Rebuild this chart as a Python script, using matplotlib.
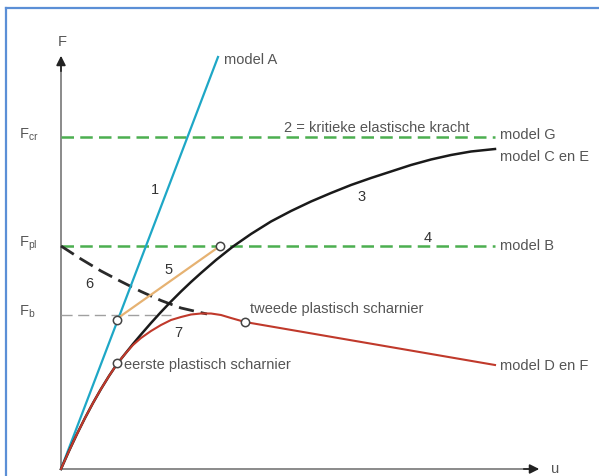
import numpy as np
import matplotlib
matplotlib.use('Agg')
import matplotlib.pyplot as plt

plt.rcParams['font.family'] = ['Liberation Sans', 'DejaVu Sans']

# schematic load-displacement curves (u, F) in drawing units
F_cr = 332
F_pl = 223
F_b = 154

model_a_u = [0, 157]
model_a_F = [0, 412]

# shared start of the red and black curves (up to first hinge)
start_u = [0, 8, 16, 24, 32, 40, 48, 56]
start_F = [0, 18, 35, 51, 66, 80, 93, 105]

# model D en F (red), after first hinge
red_u = start_u + [64, 72, 80, 90, 100, 110, 120, 130, 140, 150, 160, 170, 184, 434]
red_F = start_F + [115, 124, 131, 138, 144, 149, 152, 154.5, 155.5, 155.5, 154, 151, 147, 104]

# model C en E (black), after first hinge
black_u = start_u + [64, 72, 80, 90, 100, 110, 120, 130, 140, 155, 172, 190, 210, 230,
                     250, 270, 290, 310, 330, 350, 370, 390, 410, 434]
black_F = start_F + [115, 125, 134.5, 146, 157, 167.5, 177.5, 187, 196, 209, 222.5, 235,
                     247.5, 258, 267.5, 276, 284, 291, 297.5, 304, 309.5, 314, 317.5, 320]

# 6: dashed curve from F_pl down to the red top
dash6_u = [0, 20, 40, 60, 80, 100, 120, 146]
dash6_F = [223, 210, 198, 187.5, 177.5, 168.5, 161, 155]

# 5: orange line between the two hinge states
orange_u = [57, 159]
orange_F = [151, 223]

hinge_u = [56, 184]
hinge_F = [106, 147]
open_u = [56, 159]
open_F = [149, 223]

fig = plt.figure(figsize=(5.99, 4.76), dpi=100)
ax = fig.add_axes([0, 0, 1, 1])
ax.set_xlim(-61, 538)
ax.set_ylim(-7, 469)
ax.axis('off')

# frame
ax.plot([-55, -55], [-7, 461], color='#5b8fd6', lw=1.6)
ax.plot([-55, 538], [461, 461], color='#5b8fd6', lw=1.6)

# axes
ax.plot([0, 0], [0, 405], color='#8a8a8a', lw=1.4)
ax.plot([0, 470], [0, 0], color='#8a8a8a', lw=1.4)
ax.annotate('', xy=(0, 416), xytext=(0, 395),
            arrowprops=dict(arrowstyle='-|>', color='#222', lw=1.2, mutation_scale=14))
ax.annotate('', xy=(481, 0), xytext=(460, 0),
            arrowprops=dict(arrowstyle='-|>', color='#222', lw=1.2, mutation_scale=14))

green = '#4caf50'
ax.plot([0, 434], [F_cr, F_cr], color=green, lw=1.8, dashes=(5, 2.5))
ax.plot([0, 434], [F_pl, F_pl], color=green, lw=1.8, dashes=(5, 2.5))
ax.plot([0, 110], [F_b, F_b], color='#a0a0a0', lw=1.0, dashes=(8, 4))

ax.plot(dash6_u, dash6_F, color='#2a2a2a', lw=2.0, dashes=(5.5, 2.5))
ax.plot(model_a_u, model_a_F, color='#1ea7c6', lw=1.6)
ax.plot(orange_u, orange_F, color='#e6b272', lw=1.6)
ax.plot(black_u, black_F, color='#1a1a1a', lw=1.8, solid_joinstyle='round')
ax.plot(red_u, red_F, color='#c0392b', lw=1.5, solid_joinstyle='round')

ax.plot(hinge_u, hinge_F, 'o', ms=6, mfc='white', mec='#444', mew=1.1)
ax.plot(open_u, open_F, 'o', ms=6, mfc='white', mec='#444', mew=1.1)

tc = '#555555'
fs = 10.5
ax.text(1, 427, 'F', color=tc, fontsize=fs, ha='center', va='center')
ax.text(490, 0, 'u', color=tc, fontsize=fs, ha='left', va='center')
ax.text(-42, F_cr + 2, 'F$_{\\mathregular{cr}}$', color=tc, fontsize=fs, ha='left', va='center')
ax.text(-42, F_pl + 2, 'F$_{\\mathregular{pl}}$', color=tc, fontsize=fs, ha='left', va='center')
ax.text(-42, F_b + 3, 'F$_{\\mathregular{b}}$', color=tc, fontsize=fs, ha='left', va='center')

ax.text(163, 409, 'model A', color=tc, fontsize=fs, ha='left', va='center')
ax.text(439, 334, 'model G', color=tc, fontsize=fs, ha='left', va='center')
ax.text(439, 312, 'model C en E', color=tc, fontsize=fs, ha='left', va='center')
ax.text(439, 223, 'model B', color=tc, fontsize=fs, ha='left', va='center')
ax.text(439, 103, 'model D en F', color=tc, fontsize=fs, ha='left', va='center')
ax.text(316, 341, '2 = kritieke elastische kracht', color=tc, fontsize=fs, ha='center', va='center')
ax.text(189, 160, 'tweede plastisch scharnier', color=tc, fontsize=fs, ha='left', va='center')
ax.text(63, 104, 'eerste plastisch scharnier', color=tc, fontsize=fs, ha='left', va='center')

for s, u, f in [('1', 94, 279), ('3', 301, 272), ('4', 367, 231), ('5', 108, 199),
                ('6', 28, 185), ('7', 117, 136)]:
    ax.text(u, f, s, color='#333', fontsize=fs, ha='center', va='center')

fig.savefig('out.png', dpi=100)
